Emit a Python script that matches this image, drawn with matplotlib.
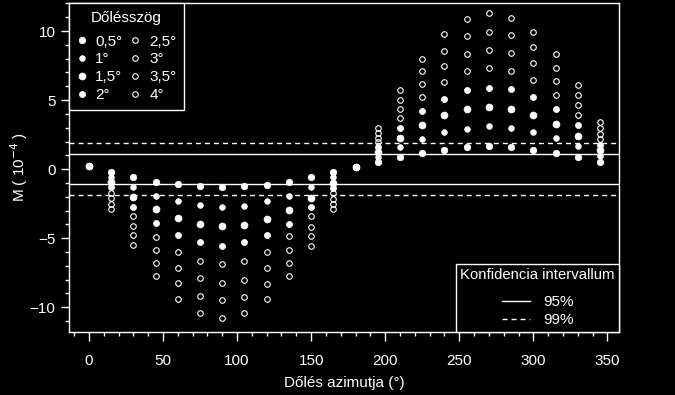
import matplotlib
matplotlib.use("Agg")
import matplotlib.pyplot as plt
from matplotlib.lines import Line2D
from matplotlib.ticker import MultipleLocator

plt.rcParams['font.family'] = ['Liberation Sans', 'DejaVu Sans']
plt.rcParams['lines.scale_dashes'] = False

azimuth = list(range(0, 360, 15))
tilt_labels = ['0,5°', '1°', '1,5°', '2°', '2,5°', '3°', '3,5°', '4°']

t05 = [0.26, -0.19, -0.58, -0.92, -1.09, -1.23, -1.30, -1.23, -1.16, -0.90, -0.56, -0.19, 0.15, 0.55, 0.89, 1.16, 1.38, 1.57, 1.69, 1.57, 1.38, 1.20, 0.89, 0.55]
t10 = [0.26, -0.57, -1.26, -1.93, -2.32, -2.61, -2.75, -2.68, -2.32, -1.91, -1.33, -0.59, 0.15, 0.90, 1.57, 2.17, 2.68, 2.94, 3.09, 2.97, 2.68, 2.27, 1.67, 0.95]
t15 = [0.26, -0.95, -2.03, -2.86, -3.53, -3.94, -4.11, -4.06, -3.62, -2.93, -2.10, -0.98, 0.15, 1.24, 2.27, 3.19, 3.93, 4.37, 4.49, 4.37, 3.93, 3.28, 2.41, 1.36]
t20 = [0.26, -1.33, -2.71, -3.87, -4.78, -5.29, -5.56, -5.29, -4.78, -3.94, -2.75, -1.38, 0.15, 1.59, 3.01, 4.20, 5.09, 5.72, 5.86, 5.77, 5.22, 4.35, 3.19, 1.76]
t25 = [0.26, -1.72, -3.36, -4.88, -5.97, -6.62, -6.88, -6.62, -5.97, -4.86, -3.43, -1.76, 0.15, 1.93, 3.70, 5.22, 6.33, 7.07, 7.30, 7.07, 6.47, 5.38, 3.93, 2.17]
t30 = [0.26, -2.11, -4.11, -5.83, -7.13, -7.90, -8.24, -8.00, -7.13, -5.85, -4.18, -2.15, 0.15, 2.28, 4.37, 6.16, 7.49, 8.33, 8.64, 8.41, 7.68, 6.40, 4.61, 2.57]
t35 = [0.26, -2.49, -4.78, -6.81, -8.24, -9.16, -9.49, -9.25, -8.33, -6.81, -4.86, -2.53, 0.15, 2.62, 5.04, 7.07, 8.59, 9.61, 9.93, 9.68, 8.88, 7.32, 5.38, 2.97]
t40 = [0.26, -2.88, -5.46, -7.73, -9.42, -10.43, -10.78, -10.43, -9.42, -7.73, -5.54, -2.92, 0.15, 2.97, 5.72, 7.99, 9.78, 10.87, 11.30, 10.94, 9.93, 8.33, 6.11, 3.38]
series = [t05, t10, t15, t20, t25, t30, t35, t40]

ci95 = 1.08
ci99 = 1.87

fg = 'white'
bg = 'black'
fig = plt.figure(figsize=(6.75, 3.95), dpi=100, facecolor=bg)
ax = fig.add_axes([0.1027, 0.16, 0.8148, 0.8324], facecolor=bg)

sizes = [4.7, 4.1, 5.0, 4.4, 4.0, 4.0, 4.0, 4.0]
handles = []
for i, (vals, lab) in enumerate(zip(series, tilt_labels)):
    if i < 4:
        kw = dict(marker='o', markersize=sizes[i], markerfacecolor=fg, markeredgecolor=fg, markeredgewidth=0.5)
    else:
        kw = dict(marker='o', markersize=sizes[i], markerfacecolor='none', markeredgecolor=fg, markeredgewidth=0.8)
    h, = ax.plot(azimuth, vals, linestyle='none', label=lab, **kw)
    handles.append(h)

dash = (0, (3.6, 2.9))
ax.axhline(ci95, color=fg, lw=1.0)
ax.axhline(-ci95, color=fg, lw=1.0)
ax.axhline(ci99, color=fg, lw=1.0, linestyle=dash)
ax.axhline(-ci99, color=fg, lw=1.0, linestyle=dash)

ax.set_xlim(-13.2, 358)
ax.set_ylim(-11.78, 12.03)
ax.set_xticks(range(0, 351, 50))
ax.set_yticks([-10, -5, 0, 5, 10])
ax.xaxis.set_minor_locator(MultipleLocator(10))
ax.yaxis.set_minor_locator(MultipleLocator(1))
ax.tick_params(which='both', direction='out', colors=fg, labelsize=11, width=1)
ax.tick_params(axis='x', which='major', length=6.5, pad=9.5)
ax.tick_params(axis='x', which='minor', length=3)
ax.tick_params(axis='y', which='major', length=5.5, pad=4.5)
ax.tick_params(axis='y', which='minor', length=3)
for s in ax.spines.values():
    s.set_color(fg)
    s.set_linewidth(1)

ax.set_xlabel('Dőlés azimutja (°)', color=fg, fontsize=11, labelpad=6)
ax.set_ylabel('M ( 10$^{-4}$ )', color=fg, fontsize=11, labelpad=0)

leg1 = ax.legend(handles=handles, ncol=2, loc='upper left', title='Dőlésszög',
                 fontsize=11, title_fontsize=11, frameon=True, fancybox=False,
                 borderaxespad=0, facecolor=bg, edgecolor=fg, framealpha=1,
                 handlelength=0.6, handletextpad=0.6, columnspacing=0.55,
                 labelspacing=0.25, borderpad=0.5, labelcolor=fg)
leg1.get_title().set_color(fg)
leg1.get_frame().set_linewidth(1)
leg1._legend_box.sep = 7.1
ax.add_artist(leg1)

h95 = Line2D([], [], color=fg, lw=1.0)
h99 = Line2D([], [], color=fg, lw=1.0, linestyle=dash)
leg2 = ax.legend(handles=[h95, h99], labels=['95%', '99%'], loc='lower right',
                 title='Konfidencia intervallum', fontsize=11, title_fontsize=10.7,
                 frameon=True, fancybox=False, borderaxespad=0, facecolor=bg,
                 edgecolor=fg, framealpha=1, handlelength=1.85, handletextpad=0.85,
                 labelspacing=0.26, borderpad=0.3, labelcolor=fg, alignment='center')
leg2.get_title().set_color(fg)
leg2.get_frame().set_linewidth(1)
leg2._legend_box.sep = 9.3

fig.savefig('out.png', dpi=100, facecolor=bg)
